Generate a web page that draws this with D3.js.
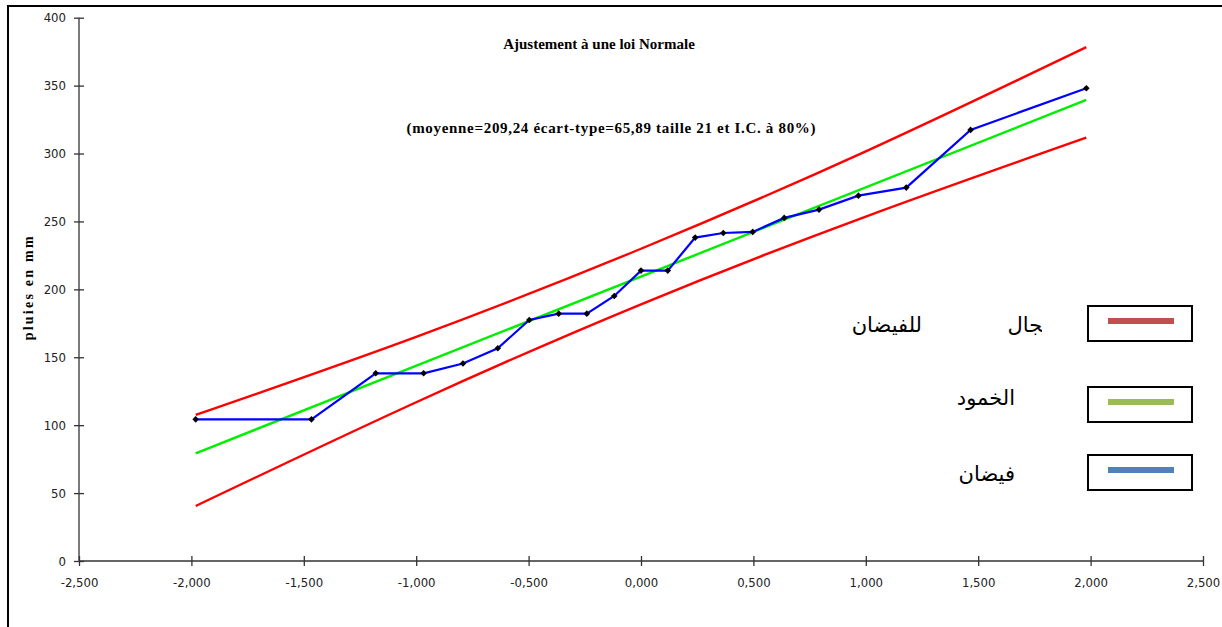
<!DOCTYPE html>
<html>
<head>
<meta charset="utf-8">
<script src="https://cdn.jsdelivr.net/npm/d3@7"></script>
<style>
  body { margin: 0; background: #fff; }
  svg { display: block; }
</style>
</head>
<body>
<div id="chart"></div>
<script>
// normal quantiles (plotting positions) and observed rainfall, sorted
const zQuantiles = [-1.981, -1.466, -1.180, -0.967, -0.792, -0.637, -0.497, -0.366, -0.241, -0.119,
  0.000, 0.119, 0.241, 0.366, 0.497, 0.637, 0.792, 0.967, 1.180, 1.466, 1.981];
const rainfall = [104.3, 104.3, 138.2, 138.2, 145.4, 156.6, 177.4, 182.1, 182.1, 195.1,
  213.8, 213.8, 238.1, 241.5, 242.3, 252.6, 258.7, 269.0, 274.9, 317.4, 348.1];

// fitted normal line
const fitZ = [-1.981, 1.981];
const fitValues = [79.3, 339.5];

// confidence interval (80%) bounds
const ciZ = [-1.981, -1.0, 0.0, 1.0, 1.981];
const ciUpper = [107.5, 165.0, 229.9, 301.6, 378.3];
const ciLower = [40.5, 116.9, 189.0, 253.6, 311.7];

const xTicks = [-2.5, -2, -1.5, -1, -0.5, 0, 0.5, 1, 1.5, 2, 2.5];
const yTicks = [0, 50, 100, 150, 200, 250, 300, 350, 400];

const titleText = "Ajustement à une loi Normale";
const subtitleText = "(moyenne=209,24 écart-type=65,89 taille 21 et I.C. à 80%)";
const yLabel = "pluies en mm";
const legendItems = [
  {label: "للفيضان", extra: "مجال", color: "#c0504d"},
  {label: "الخمود", color: "#9bbb59"},
  {label: "فيضان", color: "#4f81bd"}
];

const width = 1222, height = 627;
const tickFont = "'Liberation Sans Narrow', 'DejaVu Sans Condensed', 'Liberation Sans', sans-serif";
const serif = "'Liberation Serif', 'DejaVu Serif', serif";
const arabicFont = "'DejaVu Sans', 'Noto Sans', sans-serif";

const svg = d3.select("#chart").append("svg")
    .attr("width", width)
    .attr("height", height);

// outer frame (top and left edges visible)
svg.append("path")
    .attr("d", `M8,${height} L8,6 L${width},6`)
    .attr("fill", "none")
    .attr("stroke", "#000")
    .attr("stroke-width", 2);

const x = d3.scaleLinear().domain([-2.5, 2.5]).range([79, 1203]);
const y = d3.scaleLinear().domain([0, 400]).range([561, 17.7]);

const fmt = d => d3.format(".3f")(d).replace(".", ",").replace("\u2212", "-");

let xAxis = g => g
    .attr("transform", `translate(0,${y(0)})`)
    .call(d3.axisBottom(x).tickValues(xTicks).tickFormat(fmt).tickSize(5).tickPadding(12))
    .call(g => g.selectAll(".tick line").attr("y1", -5))
    .call(g => g.select(".domain").attr("d", `M${x(-2.5)},0H${x(2.5)}`))
    .call(g => g.selectAll("line, path").attr("stroke", "#333").attr("stroke-width", 1.3))
    .call(g => g.selectAll("text").style("font-family", tickFont).style("font-size", "13px").attr("fill", "#222"));

let yAxis = g => g
    .attr("transform", `translate(${x(-2.5)},0)`)
    .call(d3.axisLeft(y).tickValues(yTicks).tickSize(5).tickPadding(8))
    .call(g => g.selectAll(".tick line").attr("x1", 5))
    .call(g => g.select(".domain").attr("d", `M0,${y(0)}V${y(400)}`))
    .call(g => g.selectAll("line, path").attr("stroke", "#333").attr("stroke-width", 1.3))
    .call(g => g.selectAll("text").style("font-family", tickFont).style("font-size", "13px").attr("fill", "#222"));

svg.append("g").call(xAxis);
svg.append("g").call(yAxis);

svg.append("text")
    .attr("transform", `translate(33,${y(200) - 1}) rotate(-90)`)
    .attr("text-anchor", "middle")
    .attr("textLength", 104)
    .attr("lengthAdjust", "spacing")
    .style("font-family", serif)
    .style("font-weight", "bold")
    .style("font-size", "14px")
    .text(yLabel);

svg.append("text")
    .attr("x", 599)
    .attr("y", 49)
    .attr("text-anchor", "middle")
    .style("font-family", serif)
    .style("font-weight", "bold")
    .style("font-size", "15px")
    .text(titleText);

svg.append("text")
    .attr("x", 611)
    .attr("y", 133)
    .attr("text-anchor", "middle")
    .attr("textLength", 409)
    .attr("lengthAdjust", "spacing")
    .style("font-family", serif)
    .style("font-weight", "bold")
    .style("font-size", "15px")
    .text(subtitleText);

const curve = d3.line().x(d => x(d[0])).y(d => y(d[1])).curve(d3.curveNatural);

svg.append("path")
    .datum(d3.zip(ciZ, ciUpper))
    .attr("d", curve)
    .attr("fill", "none")
    .attr("stroke", "#ff0000")
    .attr("stroke-width", 2.4);

svg.append("path")
    .datum(d3.zip(ciZ, ciLower))
    .attr("d", curve)
    .attr("fill", "none")
    .attr("stroke", "#ff0000")
    .attr("stroke-width", 2.4);

svg.append("path")
    .datum(d3.zip(fitZ, fitValues))
    .attr("d", d3.line().x(d => x(d[0])).y(d => y(d[1])))
    .attr("fill", "none")
    .attr("stroke", "#00ee00")
    .attr("stroke-width", 2.4);

const obs = d3.zip(zQuantiles, rainfall);

svg.append("path")
    .datum(obs)
    .attr("d", d3.line().x(d => x(d[0])).y(d => y(d[1])))
    .attr("fill", "none")
    .attr("stroke", "#0000ff")
    .attr("stroke-width", 2.2);

svg.append("g")
  .selectAll("path")
  .data(obs)
  .enter().append("path")
    .attr("transform", d => `translate(${x(d[0])},${y(d[1])})`)
    .attr("d", d3.symbol(d3.symbolDiamond2, 28))
    .attr("fill", "#000");

// legend
const legendBoxY = [306, 387, 455];
const textY = [332, 405, 481];

svg.append("clipPath")
    .attr("id", "legclip")
  .append("rect")
    .attr("x", 800).attr("y", 290).attr("width", 242).attr("height", 60);

legendItems.forEach((item, i) => {
  svg.append("rect")
      .attr("x", 1088)
      .attr("y", legendBoxY[i])
      .attr("width", 104)
      .attr("height", 35)
      .attr("fill", "#fff")
      .attr("stroke", "#000")
      .attr("stroke-width", 2);

  svg.append("line")
      .attr("x1", 1108).attr("x2", 1174)
      .attr("y1", legendBoxY[i] + 15).attr("y2", legendBoxY[i] + 15)
      .attr("stroke", item.color)
      .attr("stroke-width", 6);

  if (item.extra) {
    svg.append("text")
        .attr("x", 922)
        .attr("y", textY[i])
        .attr("text-anchor", "end")
        .style("font-family", arabicFont)
        .style("font-size", "21px")
        .text(item.label);
    svg.append("text")
        .attr("x", 1054)
        .attr("y", textY[i])
        .attr("text-anchor", "end")
        .attr("clip-path", "url(#legclip)")
        .style("font-family", arabicFont)
        .style("font-size", "21px")
        .text(item.extra);
  } else {
    svg.append("text")
        .attr("x", 1015)
        .attr("y", textY[i])
        .attr("text-anchor", "end")
        .style("font-family", arabicFont)
        .style("font-size", "21px")
        .text(item.label);
  }
});
</script>
</body>
</html>
